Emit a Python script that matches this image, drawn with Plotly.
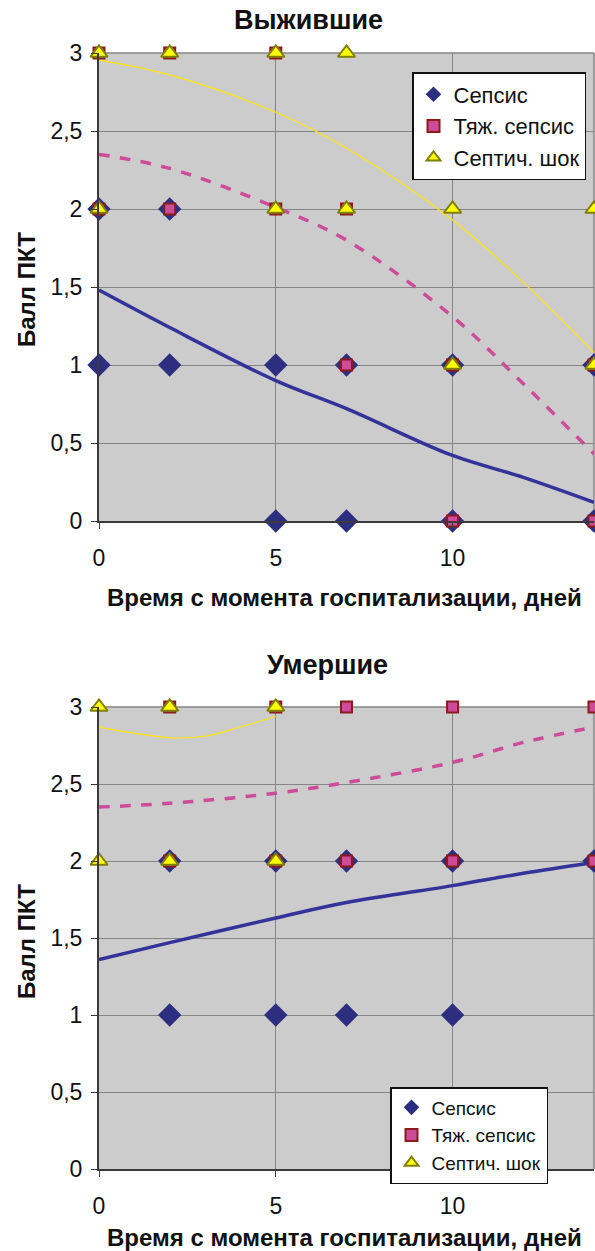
import plotly.graph_objects as go
from plotly.subplots import make_subplots

FONT = "Arial, Liberation Sans, sans-serif"

# ---- Top panel: Выжившие ----
top_sepsis_x = [0, 0, 2, 2, 5, 5, 7, 7, 10, 10, 14, 14]
top_sepsis_y = [2, 1, 2, 1, 1, 0, 1, 0, 1, 0, 1, 0]
top_severe_x = [0, 0, 2, 2, 5, 5, 7, 7, 10, 10, 14, 14]
top_severe_y = [3, 2, 3, 2, 3, 2, 2, 1, 1, 0, 1, 0]
top_shock_x = [0, 0, 2, 5, 5, 7, 7, 10, 10, 14, 14]
top_shock_y = [3, 2, 3, 3, 2, 3, 2, 2, 1, 2, 1]

top_trend_x = [0, 2, 5, 7, 10, 12, 14]
top_trend_sepsis = [1.48, 1.24, 0.90, 0.72, 0.42, 0.28, 0.12]
top_trend_severe = [2.35, 2.26, 2.01, 1.80, 1.31, 0.88, 0.43]
top_trend_shock = [2.955, 2.86, 2.62, 2.39, 1.93, 1.53, 1.08]

# ---- Bottom panel: Умершие ----
bot_sepsis_x = [2, 2, 5, 5, 7, 7, 10, 10, 14]
bot_sepsis_y = [2, 1, 2, 1, 2, 1, 2, 1, 2]
bot_severe_x = [2, 2, 5, 5, 7, 7, 10, 10, 14, 14]
bot_severe_y = [3, 2, 3, 2, 3, 2, 3, 2, 3, 2]
bot_shock_x = [0, 0, 2, 2, 5, 5]
bot_shock_y = [3, 2, 3, 2, 3, 2]

bot_trend_x = [0, 2, 5, 7, 10, 12, 14]
bot_trend_sepsis = [1.36, 1.47, 1.63, 1.73, 1.84, 1.92, 1.99]
bot_trend_severe = [2.35, 2.375, 2.44, 2.51, 2.64, 2.77, 2.87]
bot_shock_trend_x = [0, 1, 2, 3, 4, 5]
bot_trend_shock = [2.87, 2.83, 2.80, 2.81, 2.87, 2.94]

series_names = ["Сепсис", "Тяж. сепсис", "Септич. шок"]
y_tickvals = [0, 0.5, 1, 1.5, 2, 2.5, 3]
y_ticktext = ["0", "0,5", "1", "1,5", "2", "2,5", "3"]
x_tickvals = [0, 5, 10]
x_ticktext = ["0", "5", "10"]

NAVY = "#2E2E80"
PINK = "#CC4C99"
DARKRED = "#8B1A1A"
YELLOW = "#FFFF00"
OLIVE = "#808000"
TREND_NAVY = "#333399"
TREND_YELLOW = "#FFE400"

fig = make_subplots(rows=2, cols=1)

H_TOP, H_BOT = 53, 82
PH = 1251 - H_TOP - H_BOT


def py(p):
    return (1169 - p) / PH


fig.update_layout(
    yaxis=dict(domain=[py(521), 1.0]),
    yaxis2=dict(domain=[0.0, py(707)]),
)


def add_panel(row, sx, sy, qx, qy, tx, ty, trx, t_sep, t_sev, tshx, t_sh, legend):
    fig.add_trace(go.Scatter(x=trx, y=t_sep, mode="lines", line=dict(color=TREND_NAVY, width=3.5, shape="spline"),
                             showlegend=False, hoverinfo="skip"), row=row, col=1)
    fig.add_trace(go.Scatter(x=trx, y=t_sev, mode="lines", line=dict(color=PINK, width=3.5, dash="dash", shape="spline"),
                             showlegend=False, hoverinfo="skip"), row=row, col=1)
    fig.add_trace(go.Scatter(x=tshx, y=t_sh, mode="lines", line=dict(color=TREND_YELLOW, width=1.2, shape="spline"),
                             showlegend=False, hoverinfo="skip"), row=row, col=1)
    fig.add_trace(go.Scatter(x=sx, y=sy, mode="markers", name=series_names[0], legend=legend,
                             marker=dict(symbol="diamond", size=18, color=NAVY, line=dict(width=0)),
                             cliponaxis=False), row=row, col=1)
    fig.add_trace(go.Scatter(x=qx, y=qy, mode="markers", name=series_names[1], legend=legend,
                             marker=dict(symbol="square", size=11, color=PINK, line=dict(width=2, color=DARKRED)),
                             cliponaxis=False), row=row, col=1)
    fig.add_trace(go.Scatter(x=tx, y=ty, mode="markers", name=series_names[2], legend=legend,
                             marker=dict(symbol="triangle-up", size=15, color=YELLOW, line=dict(width=2, color=OLIVE)),
                             cliponaxis=False), row=row, col=1)


add_panel(1, top_sepsis_x, top_sepsis_y, top_severe_x, top_severe_y, top_shock_x, top_shock_y,
          top_trend_x, top_trend_sepsis, top_trend_severe, top_trend_x, top_trend_shock, "legend")
add_panel(2, bot_sepsis_x, bot_sepsis_y, bot_severe_x, bot_severe_y, bot_shock_x, bot_shock_y,
          bot_trend_x, bot_trend_sepsis, bot_trend_severe, bot_shock_trend_x, bot_trend_shock, "legend2")

axis_common = dict(showgrid=True, gridcolor="#858585", gridwidth=1, zeroline=False,
                   showline=True, linecolor="#3A3A3A", linewidth=2,
                   ticks="outside", ticklen=6, tickcolor="#3A3A3A",
                   tickfont=dict(family=FONT, size=23, color="#111111"))
for r in (1, 2):
    fig.update_xaxes(range=[0, 14], tickvals=x_tickvals, ticktext=x_ticktext, ticklabelstandoff=9,
                     row=r, col=1, **axis_common)
    fig.update_yaxes(range=[0, 3], tickvals=y_tickvals, ticktext=y_ticktext, ticklabelstandoff=4,
                     row=r, col=1, **axis_common)

# frame lines (top / right) in grey
for xr, yr in (("x", "y"), ("x2", "y2")):
    fig.add_shape(type="line", xref=f"{xr} domain", yref=f"{yr} domain", x0=1, x1=1, y0=0, y1=1,
                  line=dict(color="#858585", width=1.5), layer="below")
    fig.add_shape(type="line", xref=f"{xr} domain", yref=f"{yr} domain", x0=0, x1=1, y0=1, y1=1,
                  line=dict(color="#858585", width=1.5), layer="below")

PLOT_L = 99
PW = 595 - PLOT_L - 1


def px(p):
    return (p - PLOT_L) / PW


title_font = dict(family=FONT, size=27, color="#111111")
axis_title_font = dict(family=FONT, size=24, color="#111111")
ann = [
    dict(text="<b>Выжившие</b>", x=308, y=20, font=title_font),
    dict(text="<b>Умершие</b>", x=327, y=665, font=title_font),
    dict(text="<b>Время с момента госпитализации, дней</b>", x=344, y=597, font=axis_title_font),
    dict(text="<b>Время с момента госпитализации, дней</b>", x=344, y=1237, font=axis_title_font),
    dict(text="<b>Балл ПКТ</b>", x=26, y=290, font=axis_title_font, textangle=-90),
    dict(text="<b>Балл ПКТ</b>", x=26, y=942, font=axis_title_font, textangle=-90),
]
for a in ann:
    fig.add_annotation(text=a["text"], x=px(a["x"]), y=py(a["y"]), xref="paper", yref="paper",
                       xanchor="center", yanchor="middle", showarrow=False, font=a["font"],
                       textangle=a.get("textangle", 0))

fig.update_layout(
    width=595, height=1251,
    margin=dict(l=PLOT_L, r=1, t=H_TOP, b=H_BOT),
    paper_bgcolor="white",
    plot_bgcolor="#CCCCCC",
    font=dict(family=FONT, color="#111111"),
    legend=dict(x=px(412), y=py(72), xanchor="left", yanchor="top", bgcolor="white",
                bordercolor="#111111", borderwidth=1.5, font=dict(family=FONT, size=22),
                itemsizing="constant", itemwidth=30, tracegroupgap=0),
    legend2=dict(x=px(390), y=py(1087), xanchor="left", yanchor="top", bgcolor="white",
                 bordercolor="#111111", borderwidth=1.5, font=dict(family=FONT, size=19),
                 itemsizing="constant", itemwidth=30, tracegroupgap=0),
)

fig.write_html("out.html", config={"displayModeBar": False},
               post_script="document.body.style.margin='0';document.body.style.overflow='hidden';")
